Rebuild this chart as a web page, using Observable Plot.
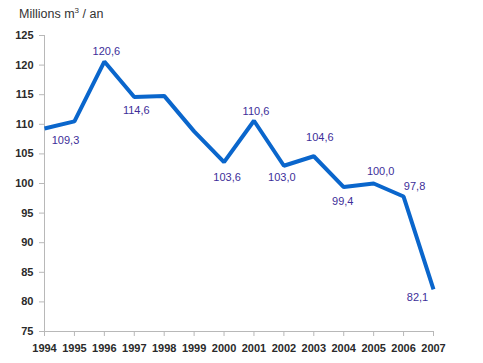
<!DOCTYPE html>
<html>
<head>
<meta charset="utf-8">
<script src="https://cdn.jsdelivr.net/npm/d3@7"></script>
<script src="https://cdn.jsdelivr.net/npm/@observablehq/plot@0.6"></script>
<style>
  html, body { margin: 0; padding: 0; background: #fff; }
  #wrap { position: relative; width: 483px; height: 363px; font-family: "Liberation Sans", Arial, sans-serif; }
  #title { position: absolute; left: 19px; top: 7px; font-size: 12.5px; color: #333; }
</style>
</head>
<body>
<div id="wrap"><div id="title">Millions m<sup style="font-size:8px;vertical-align:5px;line-height:0">3</sup> / an</div></div>
<script>
const years = [1994, 1995, 1996, 1997, 1998, 1999, 2000, 2001, 2002, 2003, 2004, 2005, 2006, 2007];
const values = [109.3, 110.5, 120.6, 114.6, 114.8, 108.8, 103.6, 110.6, 103.0, 104.6, 99.4, 100.0, 97.8, 82.1];
const labelled = [true, false, true, true, false, false, true, true, true, true, true, true, true, true];
const labelDx = [21, 0, 2, 2, 0, 0, 3, 2, -2, 6, -1, 7, 11, -16];
const labelDy = [12, 0, -10, 13, 0, 0, 15, -9, 12, -19, 14, -12, -10, 8];
const yTicks = [75, 80, 85, 90, 95, 100, 105, 110, 115, 120, 125];

const data = years.map((y, i) => ({year: y, value: values[i], show: labelled[i], dx: labelDx[i], dy: labelDy[i]}));
const labels = data.filter(d => d.show);
const fmt = v => v.toFixed(1).replace(".", ",");

const chart = Plot.plot({
  width: 483,
  height: 363,
  marginLeft: 44,
  marginRight: 50,
  marginTop: 35,
  marginBottom: 32,
  style: {fontFamily: "'Liberation Sans', Arial, sans-serif", fontSize: "11px", color: "#222", background: "transparent"},
  x: {type: "linear", domain: [1994, 2007]},
  y: {domain: [75, 125]},
  marks: [
    Plot.ruleY([75], {stroke: "#b8b8b8", strokeWidth: 1}),
    Plot.ruleX([1994], {stroke: "#b8b8b8", strokeWidth: 1}),
    Plot.axisY({ticks: yTicks, tickSize: 5, tickPadding: 6, tickFormat: d => String(d), stroke: "#b8b8b8", fill: "#2a2a2a", label: null, fontSize: 11, fontWeight: "bold"}),
    Plot.axisX({ticks: years, tickSize: 5, tickPadding: 8, tickFormat: d => String(d), stroke: "#b8b8b8", fill: "#2a2a2a", label: null, fontSize: 11, fontWeight: "bold"}),
    Plot.line(data, {x: "year", y: "value", stroke: "#0a66cc", strokeWidth: 4, strokeLinejoin: "miter", strokeLinecap: "butt"}),
    ...labels.map(d => Plot.text([d], {x: "year", y: "value", text: d => fmt(d.value), dx: d.dx, dy: d.dy, fill: "#3d2e99", fontSize: 11}))
  ]
});
document.getElementById("wrap").appendChild(chart);
</script>
</body>
</html>
